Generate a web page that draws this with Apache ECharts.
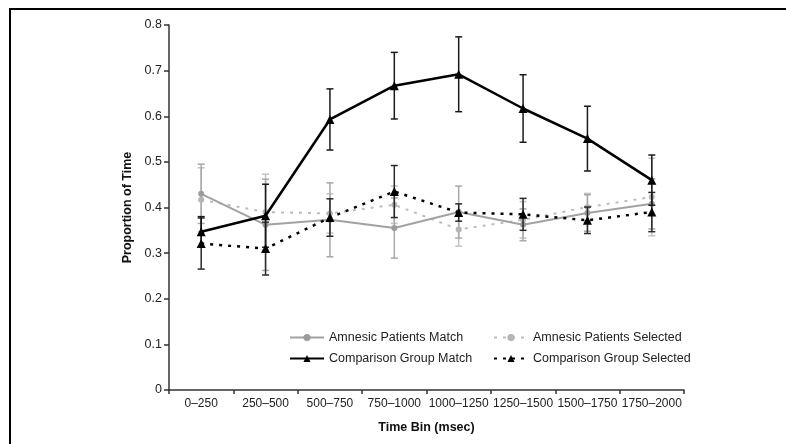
<!DOCTYPE html>
<html>
<head>
<meta charset="utf-8">
<script src="https://cdn.jsdelivr.net/npm/echarts@6/dist/echarts.min.js"></script>
<style>
  html, body { margin: 0; padding: 0; background: #fff; }
  #chart { width: 786px; height: 444px; }
</style>
</head>
<body>
<div id="chart"></div>
<script>
// Time bins (msec)
const categories = ['0–250', '250–500', '500–750', '750–1000', '1000–1250', '1250–1500', '1500–1750', '1750–2000'];

// Mean proportion of time per bin
const amnesicMatch = [0.430, 0.362, 0.373, 0.355, 0.390, 0.362, 0.388, 0.408];
const amnesicSelected = [0.417, 0.390, 0.387, 0.406, 0.352, 0.373, 0.401, 0.423];
const comparisonMatch = [0.347, 0.382, 0.593, 0.667, 0.692, 0.617, 0.551, 0.460];
const comparisonSelected = [0.321, 0.310, 0.378, 0.435, 0.389, 0.385, 0.372, 0.390];

// Standard errors (half-length of each error bar)
const amnesicMatchErr = [0.065, 0.100, 0.081, 0.066, 0.057, 0.035, 0.040, 0.055];
const amnesicSelectedErr = [0.070, 0.083, 0.043, 0.041, 0.037, 0.040, 0.030, 0.085];
const comparisonMatchErr = [0.033, 0.069, 0.067, 0.073, 0.082, 0.074, 0.071, 0.055];
const comparisonSelectedErr = [0.056, 0.058, 0.041, 0.057, 0.019, 0.035, 0.029, 0.043];

const yTicks = { min: 0, max: 0.8, interval: 0.1 };

const FONT = 'Liberation Sans, Arial, sans-serif';

function errorData(means, errs) {
  return means.map((m, i) => [i, m - errs[i], m + errs[i]]);
}

function errorSeries(name, means, errs, color, z) {
  return {
    type: 'custom',
    name: name + ' SE',
    z: z,
    silent: true,
    data: errorData(means, errs),
    encode: { x: 0, y: [1, 2] },
    renderItem: function (params, api) {
      const x = api.value(0);
      const lo = api.coord([x, api.value(1)]);
      const hi = api.coord([x, api.value(2)]);
      const cap = 3.5;
      const style = { stroke: color, lineWidth: 1.5, fill: null };
      return {
        type: 'group',
        children: [
          { type: 'line', shape: { x1: hi[0], y1: hi[1], x2: lo[0], y2: lo[1] }, style: style },
          { type: 'line', shape: { x1: hi[0] - cap, y1: hi[1], x2: hi[0] + cap, y2: hi[1] }, style: style },
          { type: 'line', shape: { x1: lo[0] - cap, y1: lo[1], x2: lo[0] + cap, y2: lo[1] }, style: style }
        ]
      };
    }
  };
}

const chart = echarts.init(document.getElementById('chart'), null, { renderer: 'canvas' });

const legendText = { fontFamily: FONT, fontSize: 12.5, color: '#222' };

chart.setOption({
  animation: false,
  backgroundColor: '#fff',
  grid: { left: 169, right: 102, top: 25, bottom: 54, containLabel: false },
  xAxis: {
    type: 'category',
    data: categories,
    boundaryGap: true,
    name: 'Time Bin (msec)',
    nameLocation: 'middle',
    nameGap: 31,
    nameTextStyle: { fontFamily: FONT, fontSize: 12.5, fontWeight: 'bold', color: '#111' },
    axisLine: { lineStyle: { color: '#333', width: 1.5 } },
    axisTick: { show: true, length: 4, alignWithLabel: false, lineStyle: { color: '#333', width: 1.5 } },
    axisLabel: { fontFamily: FONT, fontSize: 12, color: '#222', margin: 8, interval: 0 },
    splitLine: { show: false }
  },
  yAxis: {
    type: 'value',
    min: yTicks.min,
    max: yTicks.max,
    interval: yTicks.interval,
    name: 'Proportion of Time',
    nameLocation: 'middle',
    nameGap: 30,
    nameTextStyle: { fontFamily: FONT, fontSize: 12.5, fontWeight: 'bold', color: '#111' },
    axisLine: { show: true, lineStyle: { color: '#333', width: 1.5 } },
    axisTick: { show: true, length: 5, lineStyle: { color: '#333', width: 1.5 } },
    axisLabel: { fontFamily: FONT, fontSize: 12.5, color: '#222', margin: 7 },
    splitLine: { show: false }
  },
  legend: [
    {
      data: ['Amnesic Patients Match', 'Comparison Group Match'],
      orient: 'vertical',
      left: 284,
      top: 326,
      itemWidth: 34,
      itemHeight: 9,
      itemGap: 8,
      textStyle: legendText
    },
    {
      data: ['Amnesic Patients Selected', 'Comparison Group Selected'],
      orient: 'vertical',
      left: 488,
      top: 326,
      itemWidth: 34,
      itemHeight: 9,
      itemGap: 8,
      textStyle: legendText
    }
  ],
  graphic: [
    // frame edges around the figure
    { type: 'line', shape: { x1: 9, y1: 9, x2: 786, y2: 9 }, style: { stroke: '#000', lineWidth: 2 } },
    { type: 'line', shape: { x1: 10, y1: 9, x2: 10, y2: 444 }, style: { stroke: '#000', lineWidth: 2 } }
  ],
  series: [
    errorSeries('Amnesic Patients Selected', amnesicSelected, amnesicSelectedErr, '#c4c4c4', 1),
    errorSeries('Amnesic Patients Match', amnesicMatch, amnesicMatchErr, '#a8a8a8', 2),
    {
      name: 'Amnesic Patients Selected',
      type: 'line',
      data: amnesicSelected,
      z: 3,
      symbol: 'circle',
      symbolSize: 6,
      itemStyle: { color: '#b4b4b4' },
      lineStyle: { color: '#bdbdbd', width: 2, type: [3, 6] }
    },
    {
      name: 'Amnesic Patients Match',
      type: 'line',
      data: amnesicMatch,
      z: 4,
      symbol: 'circle',
      symbolSize: 6,
      itemStyle: { color: '#9c9c9c' },
      lineStyle: { color: '#a2a2a2', width: 2 }
    },
    errorSeries('Comparison Group Selected', comparisonSelected, comparisonSelectedErr, '#2a2a2a', 5),
    errorSeries('Comparison Group Match', comparisonMatch, comparisonMatchErr, '#1a1a1a', 6),
    {
      name: 'Comparison Group Selected',
      type: 'line',
      data: comparisonSelected,
      z: 7,
      symbol: 'triangle',
      symbolSize: 9,
      itemStyle: { color: '#000' },
      lineStyle: { color: '#000', width: 2.5, type: [3, 6] }
    },
    {
      name: 'Comparison Group Match',
      type: 'line',
      data: comparisonMatch,
      z: 8,
      symbol: 'triangle',
      symbolSize: 9,
      itemStyle: { color: '#000' },
      lineStyle: { color: '#000', width: 2.5 }
    }
  ]
});
</script>
</body>
</html>
